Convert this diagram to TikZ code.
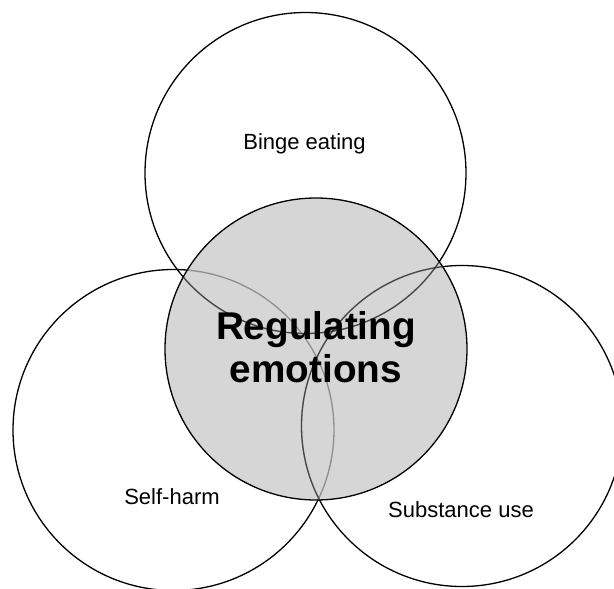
\documentclass[tikz,border=0pt]{standalone}
\usepackage{fontspec}
\setmainfont{Liberation Sans}
\usetikzlibrary{positioning}
\definecolor{coregray}{HTML}{C6C6C8}
\tikzset{%
  set/.style = {circle,draw,line width=1.3pt,minimum size=321pt,inner sep=0pt},
  core/.style = {circle,draw,line width=1.3pt,fill=coregray,fill opacity=0.72,
        minimum size=302pt,inner sep=0pt},
  setlabel/.style = {anchor=base,font=\fontsize{22}{26}\selectfont},
  corelabel/.style = {anchor=base,align=center,
        font=\fontsize{38.7}{43}\selectfont\bfseries}
}
\begin{document}
\begin{tikzpicture}[x=1pt,y=-1pt]
    \useasboundingbox (0,0) rectangle (614,589);
    \node[set] (binge) at (305.5,173) {};
    \node[set] (harm) at (173.5,430) {};
    \node[set] (subst) at (462,426) {};
    \node[core] (regul) at (316,349) {};
    % darker arcs inside the grey disc
    \begin{scope}
        \clip (regul.center) circle (150pt);
        \node[set,draw opacity=0.5] at (binge.center) {};
        \node[set,draw opacity=0.5] at (subst.center) {};
    \end{scope}
    \node[setlabel] (bingetext) at (304.5,149) {Binge eating};
    \node[setlabel] (harmtext) at (172,504) {Self-harm};
    \node[setlabel] (substtext) at (461,517) {Substance use};
    \node[corelabel] (regultext) at (316,382) {Regulating\\emotions};
\end{tikzpicture}
\end{document}
